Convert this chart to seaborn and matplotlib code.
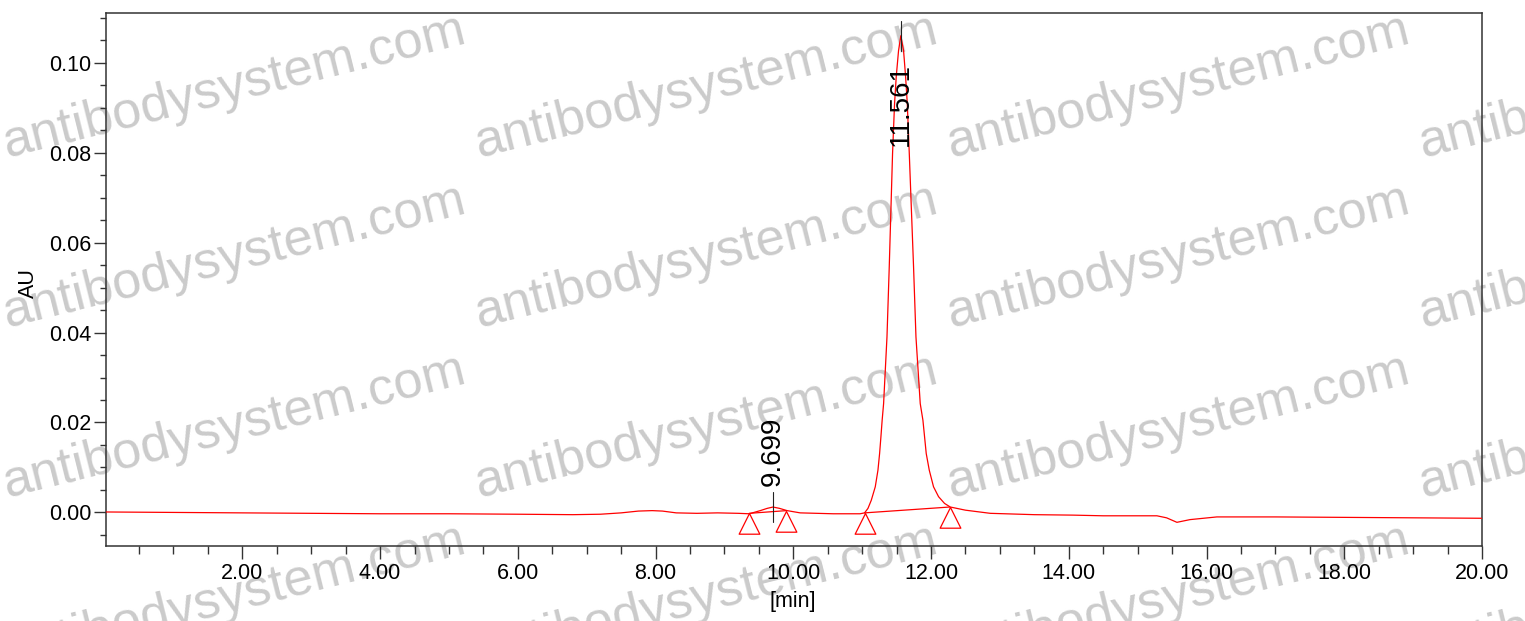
import numpy as np
import pandas as pd
import matplotlib
matplotlib.use("Agg")
import matplotlib.pyplot as plt
import seaborn as sns
from matplotlib.path import Path
from matplotlib.markers import MarkerStyle
from matplotlib.ticker import MultipleLocator, FormatStrFormatter, FixedLocator

# ---------------- data ----------------
time_min = [0.02, 1.0, 2.0, 3.0, 4.0, 5.0, 6.0, 6.8, 7.2, 7.5, 7.75, 7.95, 8.1, 8.3,
            8.6, 8.9, 9.2, 9.36, 9.52, 9.62, 9.705, 9.8, 9.91, 10.10, 10.58, 10.97,
            11.035, 11.084, 11.132, 11.19, 11.229, 11.253, 11.272, 11.29, 11.311,
            11.36, 11.393, 11.441, 11.47, 11.495, 11.528, 11.561, 11.601, 11.63,
            11.655, 11.684, 11.746, 11.781, 11.843, 11.882, 11.906, 11.93, 11.974,
            12.036, 12.109, 12.196, 12.28, 12.5, 12.86, 13.5, 14.06, 14.5, 15.28,
            15.42, 15.57, 15.76, 16.15, 17.0, 18.0, 19.0, 20.0]
absorbance = [0.0001, 0.0000, -0.0001, -0.0002, -0.0003, -0.0003, -0.0004, -0.0005,
              -0.0004, -0.0001, 0.0003, 0.0004, 0.0003, -0.0001, -0.0002, -0.0001,
              -0.0002, -0.0003, 0.0004, 0.0009, 0.0012, 0.0009, 0.0004, -0.0001,
              -0.0003, -0.0003, -0.0001, 0.0009, 0.0027, 0.0057, 0.0094, 0.0131,
              0.0168, 0.0205, 0.0242, 0.0390, 0.0546, 0.0798, 0.0909, 0.0970, 0.1027,
              0.1060, 0.1027, 0.0970, 0.0909, 0.0798, 0.0546, 0.0390, 0.0242, 0.0205,
              0.0168, 0.0131, 0.0094, 0.0057, 0.0035, 0.0020, 0.0012, 0.0005, -0.0002,
              -0.0005, -0.0006, -0.00075, -0.00075, -0.0012, -0.0022, -0.0016, -0.0010,
              -0.0010, -0.0011, -0.0012, -0.0013]

peak_times = [9.699, 11.561]
peak_heights = [0.0012, 0.1060]
peak_labels = ["9.699", "11.561"]

baseline_start_t = [9.36, 11.035]
baseline_start_y = [-0.0002, -0.0001]
baseline_end_t = [9.90, 12.27]
baseline_end_y = [0.0004, 0.0012]

x_ticks = [2, 4, 6, 8, 10, 12, 14, 16, 18, 20]
y_ticks = [0.00, 0.02, 0.04, 0.06, 0.08, 0.10]
x_label = "[min]"
y_label = "AU"
watermark = "antibodysystem.com"

# ---------------- style ----------------
sns.set_theme(style="ticks")
plt.rcParams["font.family"] = ["Liberation Sans", "DejaVu Sans"]

W, H = 1525, 621
fig = plt.figure(figsize=(W / 100, H / 100), dpi=100)
ax_l, ax_r, ax_t, ax_b = 106, 1482, 13.3, 545.7
ax = fig.add_axes([ax_l / W, 1 - ax_b / H, (ax_r - ax_l) / W, (ax_b - ax_t) / H])
ax.patch.set_alpha(0)

# watermark (behind the axes)
for yb in [157, 327, 497, 667]:
    for xb in [7, 479, 951, 1423]:
        fig.text(xb / W, 1 - yb / H, watermark, fontsize=37.5, color="#cbcbcb",
                 rotation=14, rotation_mode="anchor", ha="left", va="baseline",
                 zorder=-5)

df = pd.DataFrame({"t": time_min, "au": absorbance})
sns.lineplot(data=df, x="t", y="au", color="#ff0000", linewidth=0.9,
             estimator=None, sort=False, ax=ax, zorder=3)

xmin, xmax = 0.02, 20.0
ymin, ymax = -0.0074, 0.1110
ax.set_xlim(xmin, xmax)
ax.set_ylim(ymin, ymax)

# integration baselines and markers
tri = MarkerStyle(Path([(0, 0), (-0.5, -1), (0.5, -1), (0, 0)], closed=True))
for t0, y0, t1, y1 in zip(baseline_start_t, baseline_start_y, baseline_end_t, baseline_end_y):
    ax.plot([t0, t1], [y0, y1], color="#ff0000", lw=0.9, zorder=3)
    ax.plot([t0, t1], [y0, y1], linestyle="none", marker=tri, markersize=29.8,
            markerfacecolor="none", markeredgecolor="#ff0000", markeredgewidth=0.9,
            zorder=4)

# peak labels
ax_h_px = ax_b - ax_t
dpp = (ymax - ymin) / ax_h_px  # data units per pixel
for t, h, lab in zip(peak_times, peak_heights, peak_labels):
    ax.plot([t, t], [h - 15 * dpp, h + 15 * dpp], color="#222222", lw=0.8, zorder=5)
    if h + 105 * dpp < ymax:
        ax.text(t, h + 21 * dpp, lab, rotation=90, ha="center", va="bottom",
                fontsize=20, color="black", zorder=6)
    else:
        ax.text(t, h - 110 * dpp, lab, rotation=90, ha="center", va="bottom",
                fontsize=20, color="black", zorder=6)

# ticks
ax.xaxis.set_major_locator(FixedLocator(x_ticks))
ax.xaxis.set_minor_locator(MultipleLocator(0.5))
ax.yaxis.set_major_locator(FixedLocator(y_ticks))
ax.yaxis.set_minor_locator(MultipleLocator(0.005))
ax.xaxis.set_major_formatter(FormatStrFormatter("%.2f"))
ax.yaxis.set_major_formatter(FormatStrFormatter("%.2f"))
ax.tick_params(axis="both", which="major", direction="out", width=1.0,
               color="#333333", labelsize=15.5, labelcolor="black")
ax.tick_params(axis="x", which="major", length=9.5, pad=3)
ax.tick_params(axis="y", which="major", length=8.5, pad=2)
ax.tick_params(axis="x", which="minor", direction="out", length=6, width=1.0, color="#333333")
ax.tick_params(axis="y", which="minor", direction="out", length=4.5, width=1.0, color="#333333")

for s in ax.spines.values():
    s.set_visible(True)
    s.set_color("#333333")
    s.set_linewidth(1.1)

ax.set_xlabel(x_label, fontsize=15.5, color="black")
ax.set_ylabel(y_label, fontsize=15.5, color="black")
ax.xaxis.set_label_coords((793 - ax_l) / (ax_r - ax_l), -(591 - ax_b) / ax_h_px)
ax.yaxis.set_label_coords((39 - ax_l) / (ax_r - ax_l), (ax_b - 283) / ax_h_px)

fig.savefig("out.png", dpi=100)
